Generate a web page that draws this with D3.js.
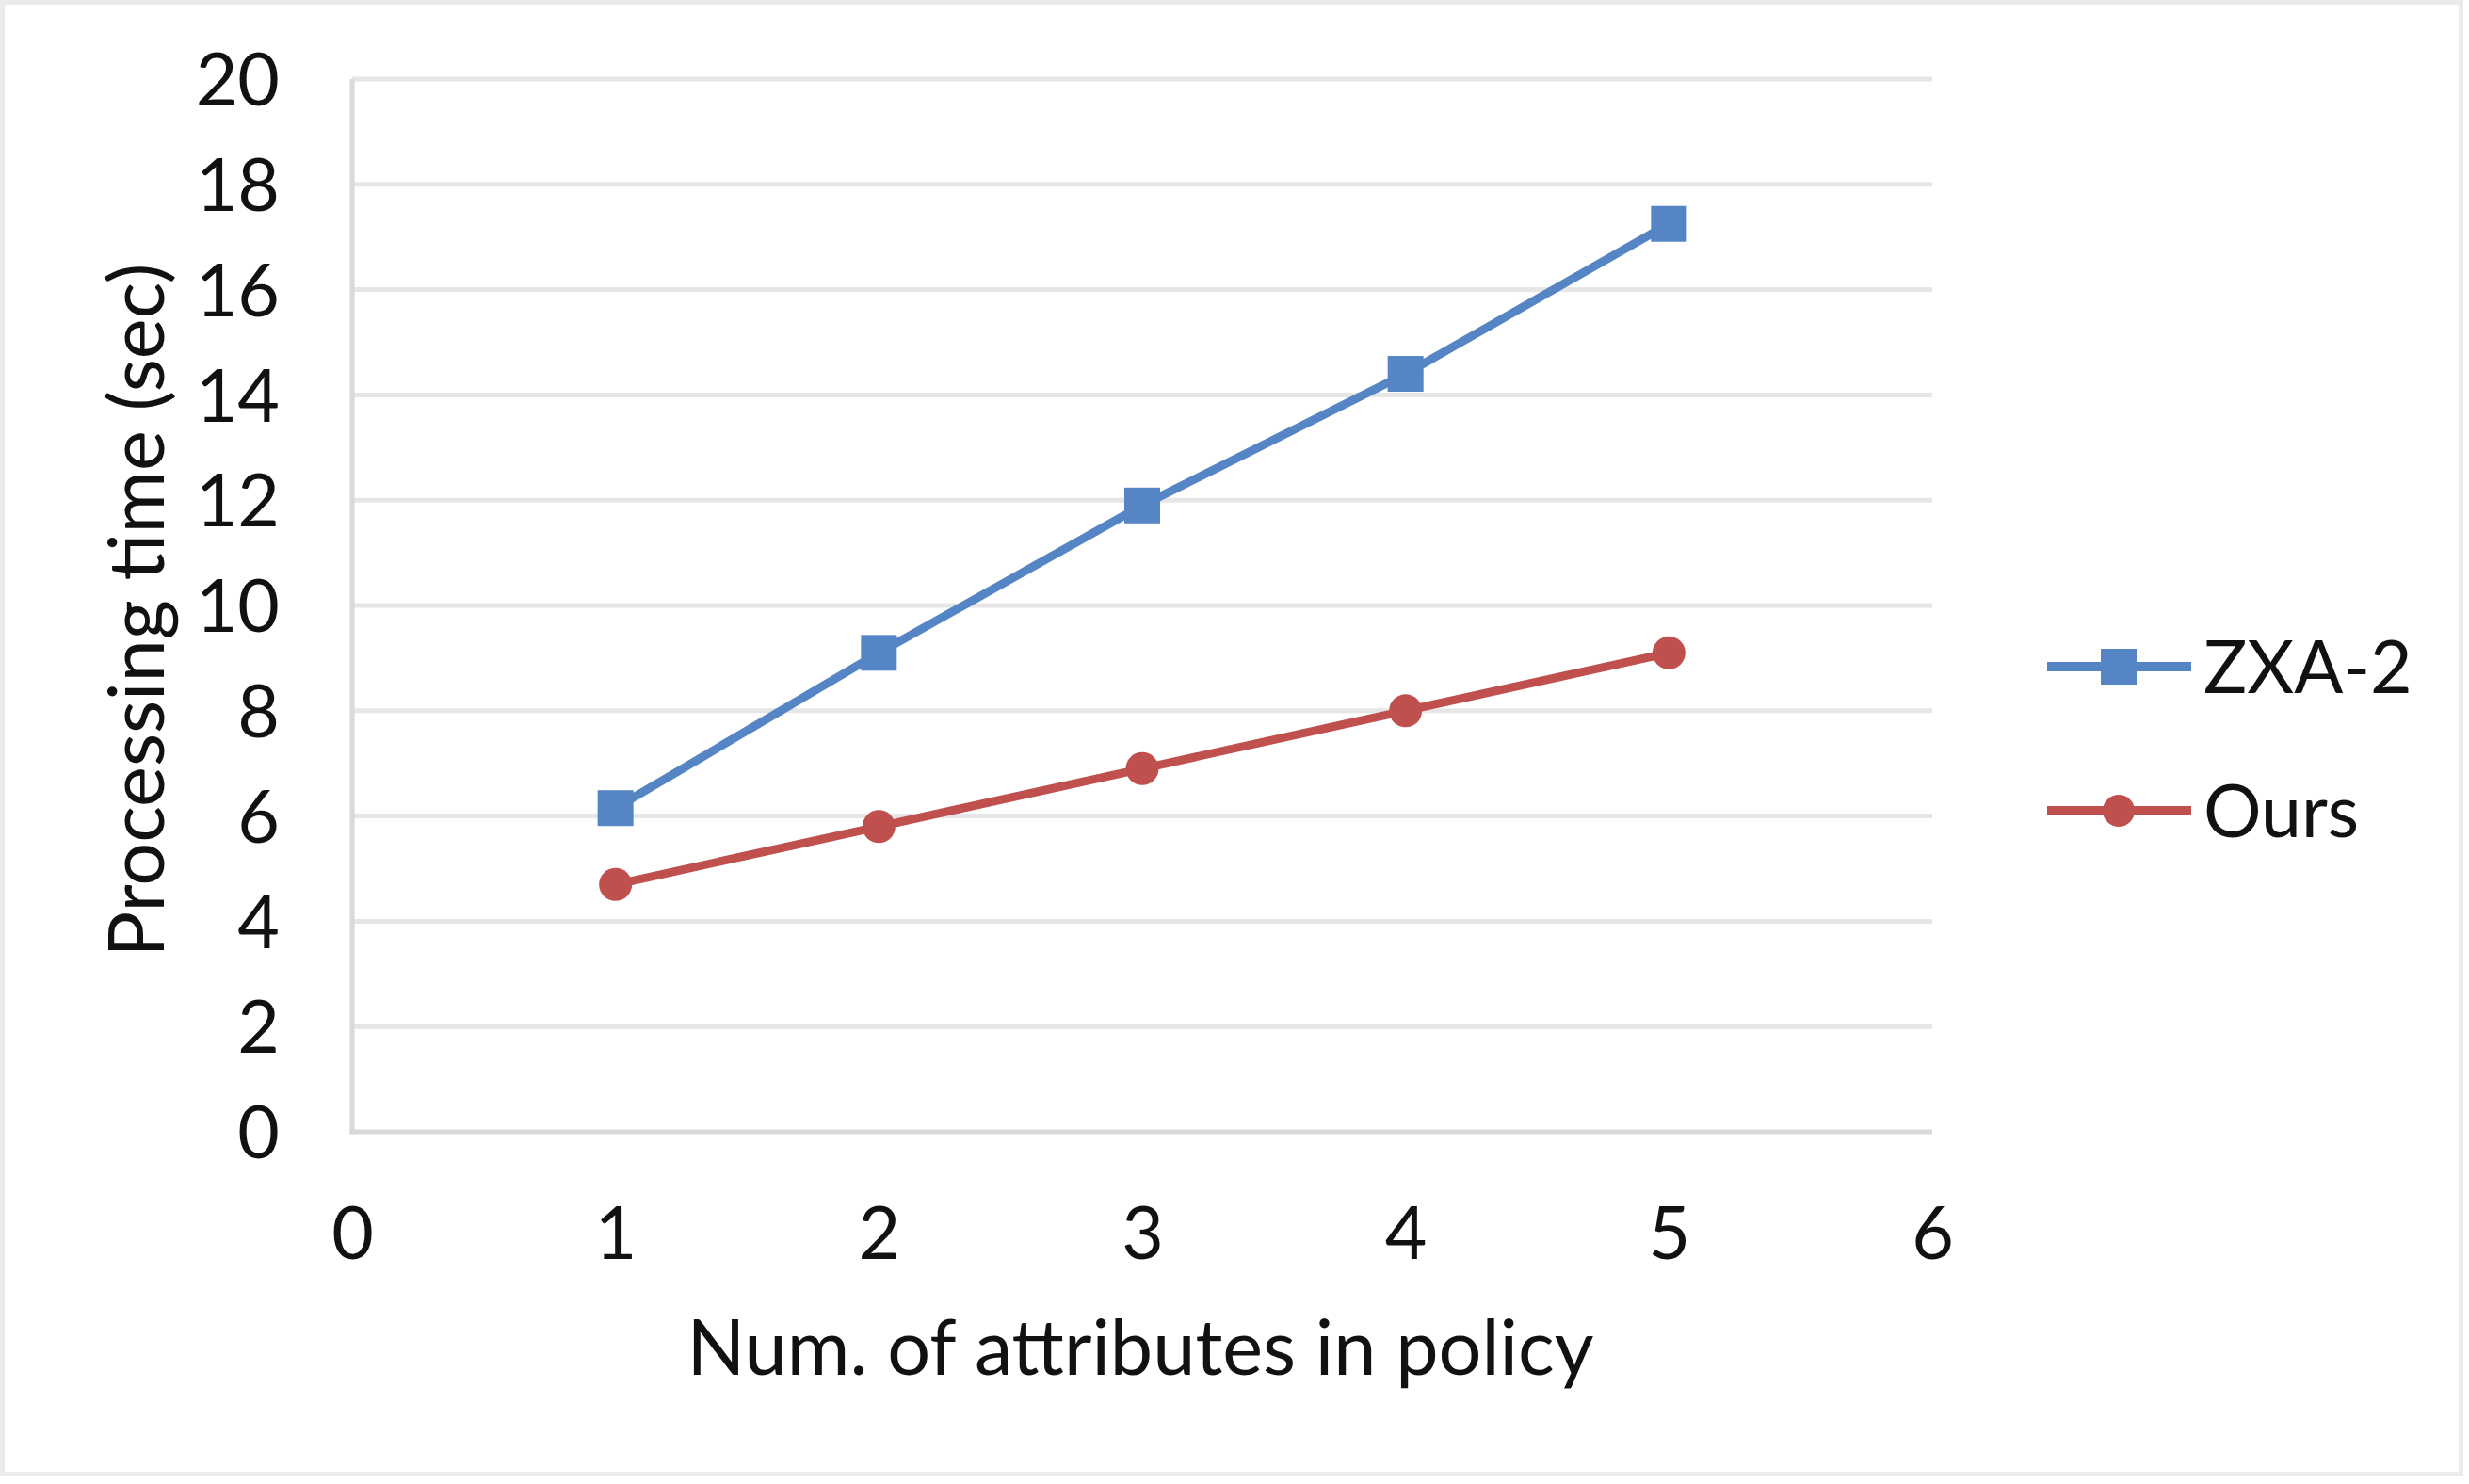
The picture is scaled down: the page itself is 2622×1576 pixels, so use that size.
<!DOCTYPE html>
<html lang='en'>
  <head>
    <meta charset='utf-8'>
    <title>Processing time vs attributes</title>
    <script src="https://d3js.org/d3.v7.min.js" charset='utf-8'></script>
    <style type="text/css">
      body { margin: 0; background: #fff; }
      svg { display: block; }
      text { font-family: Lato, 'Open Sans', sans-serif; fill: #111; }
      .grid line { stroke: #e6e6e6; stroke-width: 5px; }
      .axis path, .axis line { display: none; }
    </style>
  </head>
  <body>
    <script type="text/javascript">
      var width = 2622, height = 1576;

      // data
      var attrs = [1, 2, 3, 4, 5];
      var zxa2 = [6.15, 9.1, 11.9, 14.4, 17.25];
      var ours = [4.7, 5.8, 6.9, 8.0, 9.1];
      var xTicks = [0, 1, 2, 3, 4, 5, 6];
      var yTicks = [0, 2, 4, 6, 8, 10, 12, 14, 16, 18, 20];
      var seriesNames = ['ZXA-2', 'Ours'];
      var seriesColors = ['#5585c5', '#c0504d'];

      var titleSize = '81px', labelSize = '77px';

      var svg = d3.select('body').append('svg')
        .attr('width', width)
        .attr('height', height);

      // light outer frame
      svg.append('rect')
        .attr('x', 2.5).attr('y', 2.5)
        .attr('width', 2611).attr('height', 1563)
        .attr('fill', '#fff')
        .attr('stroke', '#ebebeb')
        .attr('stroke-width', 5);

      var x = d3.scaleLinear().domain([0, 6]).range([374, 2052]);
      var y = d3.scaleLinear().domain([0, 20]).range([1202, 84]);

      // horizontal gridlines
      svg.append('g').attr('class', 'grid')
        .selectAll('line')
        .data(yTicks.slice(1))
        .enter().append('line')
        .attr('x1', x(0)).attr('x2', x(6))
        .attr('y1', function(d) { return y(d); })
        .attr('y2', function(d) { return y(d); });

      // axis lines
      svg.append('line')
        .attr('x1', x(0)).attr('x2', x(0))
        .attr('y1', y(20)).attr('y2', y(0) + 2.5)
        .attr('stroke', '#d9d9d9').attr('stroke-width', 5);
      svg.append('line')
        .attr('x1', x(0) - 2.5).attr('x2', x(6))
        .attr('y1', y(0)).attr('y2', y(0))
        .attr('stroke', '#d9d9d9').attr('stroke-width', 5);

      // y axis labels
      var yAxis = svg.append('g').attr('class', 'axis')
        .attr('transform', 'translate(' + (x(0) - 77) + ',0)')
        .call(d3.axisLeft(y).tickValues(yTicks).tickSize(0).tickPadding(0));
      yAxis.selectAll('text')
        .style('font-size', labelSize)
        .attr('dy', '0.36em');

      // x axis labels
      var xAxis = svg.append('g').attr('class', 'axis')
        .attr('transform', 'translate(0,' + (y(0) + 80) + ')')
        .call(d3.axisBottom(x).tickValues(xTicks).tickFormat(d3.format('d'))
          .tickSize(0).tickPadding(0));
      xAxis.selectAll('text')
        .style('font-size', labelSize)
        .attr('dy', '0.71em');

      // axis titles
      svg.append('text')
        .attr('x', 1211).attr('y', 1460)
        .attr('text-anchor', 'middle')
        .style('font-size', titleSize)
        .text('Num. of attributes in policy');

      svg.append('text')
        .attr('transform', 'translate(174,648) rotate(-90)')
        .attr('text-anchor', 'middle')
        .style('font-size', titleSize)
        .text('Processing time (sec)');

      var line = d3.line()
        .x(function(d) { return x(d[0]); })
        .y(function(d) { return y(d[1]); });

      var series = [zxa2, ours];
      series.forEach(function(vals, i) {
        var pts = attrs.map(function(a, j) { return [a, vals[j]]; });
        svg.append('path')
          .datum(pts)
          .attr('d', line)
          .attr('fill', 'none')
          .attr('stroke', seriesColors[i])
          .attr('stroke-width', 9);
        if (i === 0) {
          svg.selectAll('.sq')
            .data(pts).enter().append('rect')
            .attr('class', 'sq')
            .attr('x', function(d) { return x(d[0]) - 19; })
            .attr('y', function(d) { return y(d[1]) - 19; })
            .attr('width', 38).attr('height', 38)
            .attr('fill', seriesColors[i]);
        } else {
          svg.selectAll('.dot')
            .data(pts).enter().append('circle')
            .attr('class', 'dot')
            .attr('cx', function(d) { return x(d[0]); })
            .attr('cy', function(d) { return y(d[1]); })
            .attr('r', 17.5)
            .attr('fill', seriesColors[i]);
        }
      });

      // legend
      var legendY = [708, 861];
      var legend = svg.append('g');
      seriesNames.forEach(function(name, i) {
        legend.append('line')
          .attr('x1', 2174).attr('x2', 2327)
          .attr('y1', legendY[i]).attr('y2', legendY[i])
          .attr('stroke', seriesColors[i]).attr('stroke-width', 10);
        if (i === 0) {
          legend.append('rect')
            .attr('x', 2250 - 19).attr('y', legendY[i] - 19)
            .attr('width', 38).attr('height', 38)
            .attr('fill', seriesColors[i]);
        } else {
          legend.append('circle')
            .attr('cx', 2250).attr('cy', legendY[i]).attr('r', 17)
            .attr('fill', seriesColors[i]);
        }
        legend.append('text')
          .attr('x', 2340).attr('y', legendY[i] + 28)
          .style('font-size', labelSize)
          .text(name);
      });
    </script>
  </body>
</html>
